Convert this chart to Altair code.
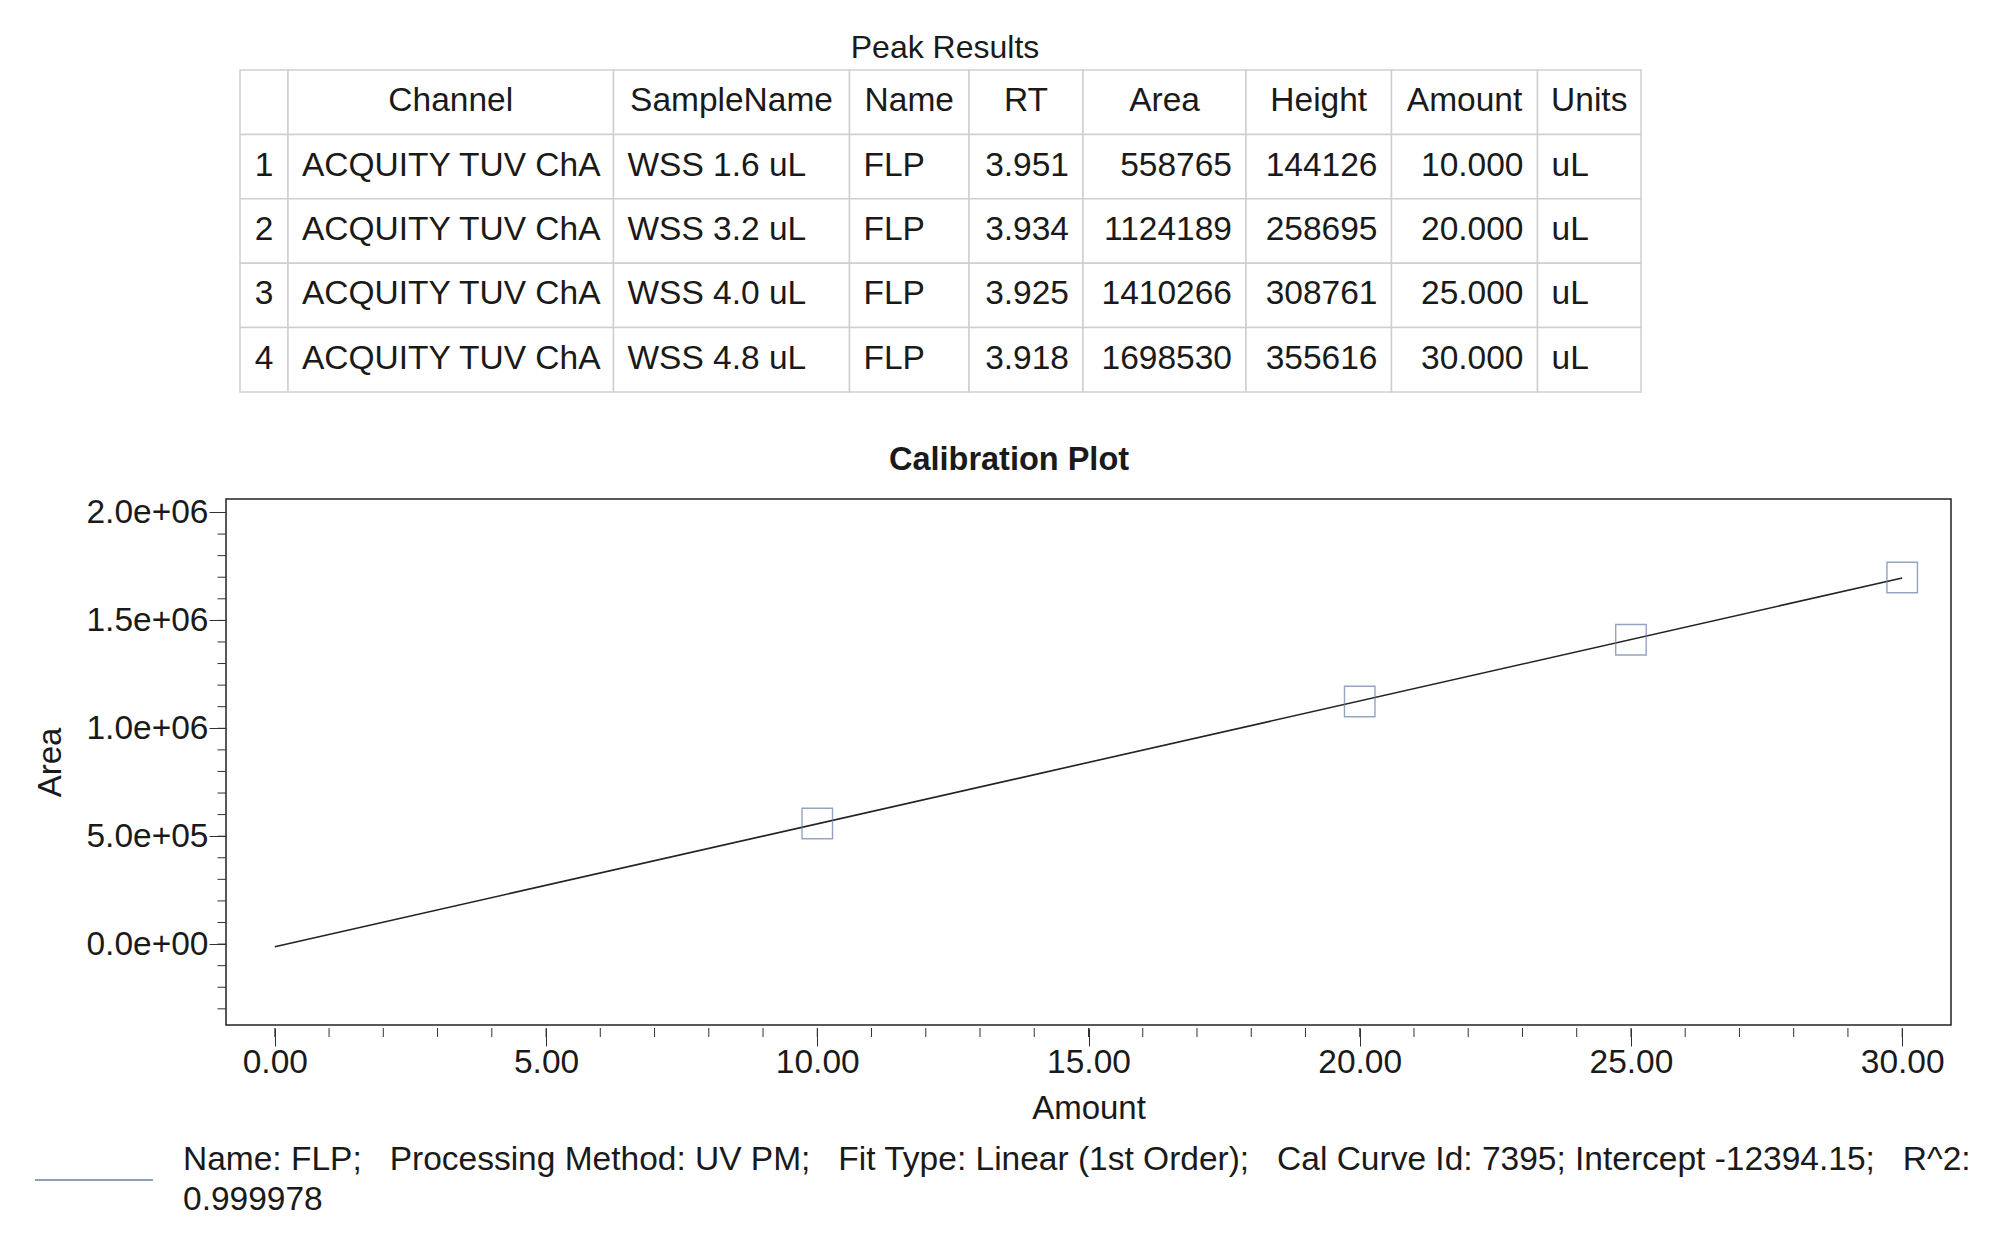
import altair as alt
import pandas as pd

# ---- values ----
HEADERS = ["", "Channel", "SampleName", "Name", "RT", "Area", "Height", "Amount", "Units"]
row_no = ["1", "2", "3", "4"]
channel = ["ACQUITY TUV ChA", "ACQUITY TUV ChA", "ACQUITY TUV ChA", "ACQUITY TUV ChA"]
sample_name = ["WSS 1.6 uL", "WSS 3.2 uL", "WSS 4.0 uL", "WSS 4.8 uL"]
peak_name = ["FLP", "FLP", "FLP", "FLP"]
rt = [3.951, 3.934, 3.925, 3.918]
area = [558765, 1124189, 1410266, 1698530]
height = [144126, 258695, 308761, 355616]
amount = [10.0, 20.0, 25.0, 30.0]
units = ["uL", "uL", "uL", "uL"]

FIT_INFO = ("Name: FLP;\u00a0\u00a0\u00a0Processing Method: UV PM;\u00a0\u00a0\u00a0"
            "Fit Type: Linear (1st Order);\u00a0\u00a0\u00a0Cal Curve Id: 7395; "
            "Intercept -12394.15;\u00a0\u00a0\u00a0R^2:")
FIT_R2 = "0.999978"

X_MAJOR = [0, 5, 10, 15, 20, 25, 30]
X_MINOR = list(range(0, 31))
Y_MAJOR = [0, 500000, 1000000, 1500000, 2000000]
Y_MINOR = list(range(-300000, 2000001, 100000))

# ---- layout / style ----
FONT = "Liberation Sans"
TEXT = "#1a1a1a"
TICK = "#333333"
GRID = "#cfcfcf"
MARKER = "#6a7ea8"

COL_W = [48, 325.5, 236, 119.5, 114, 163, 145.5, 146, 103.5]
COL_ALIGN = ["center", "left", "left", "left", "right", "right", "right", "right", "left"]
TABLE_X0 = 14
TABLE_W = 1415
TABLE_H = 322
PAD = 14

PLOT_W = 1725
PLOT_H = 526

# table cells
rows = [HEADERS]
for i in range(4):
    rows.append([
        row_no[i], channel[i], sample_name[i], peak_name[i],
        f"{rt[i]:.3f}", str(area[i]), str(height[i]), f"{amount[i]:.3f}", units[i],
    ])

records = []
for r, row in enumerate(rows):
    left = TABLE_X0
    for c, txt in enumerate(row):
        right = left + COL_W[c]
        align = "center" if r == 0 else COL_ALIGN[c]
        if align == "left":
            xt = left + PAD
        elif align == "right":
            xt = right - PAD
        else:
            xt = (left + right) / 2
        records.append({"r": r, "x0": left, "x1": right, "xt": xt, "text": txt, "align": align})
        left = right
cells = pd.DataFrame(records)

tx = alt.Scale(domain=[0, TABLE_W], nice=False, zero=False)
ty = alt.Scale(paddingInner=0, paddingOuter=0)

cell_rects = (
    alt.Chart(cells)
    .mark_rect(fill="white", stroke=GRID, strokeWidth=1.5)
    .encode(
        x=alt.X("x0:Q", scale=tx, axis=None),
        x2="x1:Q",
        y=alt.Y("r:O", scale=ty, axis=None),
    )
)

cell_texts = []
for a in ["left", "center", "right"]:
    cell_texts.append(
        alt.Chart(cells)
        .transform_filter(f"datum.align == '{a}'")
        .mark_text(align=a, baseline="middle", fontSize=33.5, color=TEXT, dy=-1)
        .encode(
            x=alt.X("xt:Q", scale=tx, axis=None),
            y=alt.Y("r:O", scale=ty, axis=None),
            text="text:N",
        )
    )

table = alt.layer(cell_rects, *cell_texts).properties(
    width=TABLE_W,
    height=TABLE_H,
    title=alt.Title("Peak Results", fontSize=32, fontWeight="normal", color=TEXT,
                    frame="group", dx=11.5, offset=4),
)

# calibration plot
points = pd.DataFrame({"amount": amount, "area": area})

x_scale = alt.Scale(domain=[-0.9, 30.9], nice=False, zero=False)
y_scale = alt.Scale(domain=[-375000, 2062500], nice=False, zero=False)

x_axis = alt.Axis(
    values=X_MAJOR, format=".2f", tickSize=18, offset=3, domain=False, grid=False,
    labelOverlap=False, labelFlush=False, labelPadding=0, title="Amount", titlePadding=14,
)
y_axis = alt.Axis(
    values=Y_MAJOR, labelExpr="replace(format(datum.value, '.1e'), 'e+', 'e+0')",
    tickSize=17, domain=False, grid=False, labelOverlap=False, labelFlush=False,
    labelPadding=1, title="Area", titlePadding=18,
)

base = alt.Chart(points).encode(
    x=alt.X("amount:Q", scale=x_scale, axis=x_axis),
    y=alt.Y("area:Q", scale=y_scale, axis=y_axis),
)

fit_line = (
    base.transform_regression("amount", "area", extent=[0, 30])
    .mark_line(color="#222222", strokeWidth=1.6)
)
squares = base.mark_point(shape="square", size=930, filled=False, color=MARKER, strokeWidth=1.4)

# minor ticks drawn as short rules on the shared scales
x_minor = (
    alt.Chart(pd.DataFrame({"v": X_MINOR}))
    .mark_rule(color=TICK, strokeWidth=1)
    .encode(x=alt.X("v:Q", scale=x_scale, axis=x_axis), y=alt.value(PLOT_H + 3), y2=alt.value(PLOT_H + 12))
)
y_minor = (
    alt.Chart(pd.DataFrame({"v": Y_MINOR}))
    .mark_rule(color=TICK, strokeWidth=1)
    .encode(y=alt.Y("v:Q", scale=y_scale, axis=y_axis), x=alt.value(-8.5), x2=alt.value(0))
)

legend_df = pd.DataFrame({"label": [FIT_INFO + "\n" + FIT_R2]})
legend_swatch = (
    alt.Chart(legend_df)
    .mark_rule(color=MARKER, strokeWidth=1.5)
    .encode(x=alt.value(-191), x2=alt.value(-73), y=alt.value(681))
)
legend_text = (
    alt.Chart(legend_df)
    .mark_text(align="left", baseline="alphabetic", fontSize=33.5, color=TEXT, lineBreak="\n", lineHeight=40)
    .encode(x=alt.value(-43), y=alt.value(671), text="label:N")
)

plot = alt.layer(fit_line, squares, x_minor, y_minor, legend_swatch, legend_text).properties(
    width=PLOT_W,
    height=PLOT_H,
    view=alt.ViewBackground(stroke="#222222", strokeWidth=1.5),
    title=alt.Title("Calibration Plot", fontSize=32.5, fontWeight="bold", color=TEXT,
                    frame="group", dx=-79.5, offset=18.5),
)

chart = (
    alt.vconcat(table, plot, spacing=50)
    .properties(padding={"left": 25, "top": 24, "right": 5, "bottom": 5})
    .configure(font=FONT)
    .configure_view(strokeWidth=0)
    .configure_axis(
        labelFont=FONT, titleFont=FONT, labelFontSize=33.5, titleFontSize=33,
        labelColor=TEXT, titleColor=TEXT, tickColor=TICK, tickWidth=1, titleFontWeight="normal",
    )
)

chart.save("out.html", embed_options={"renderer": "svg", "actions": False})
